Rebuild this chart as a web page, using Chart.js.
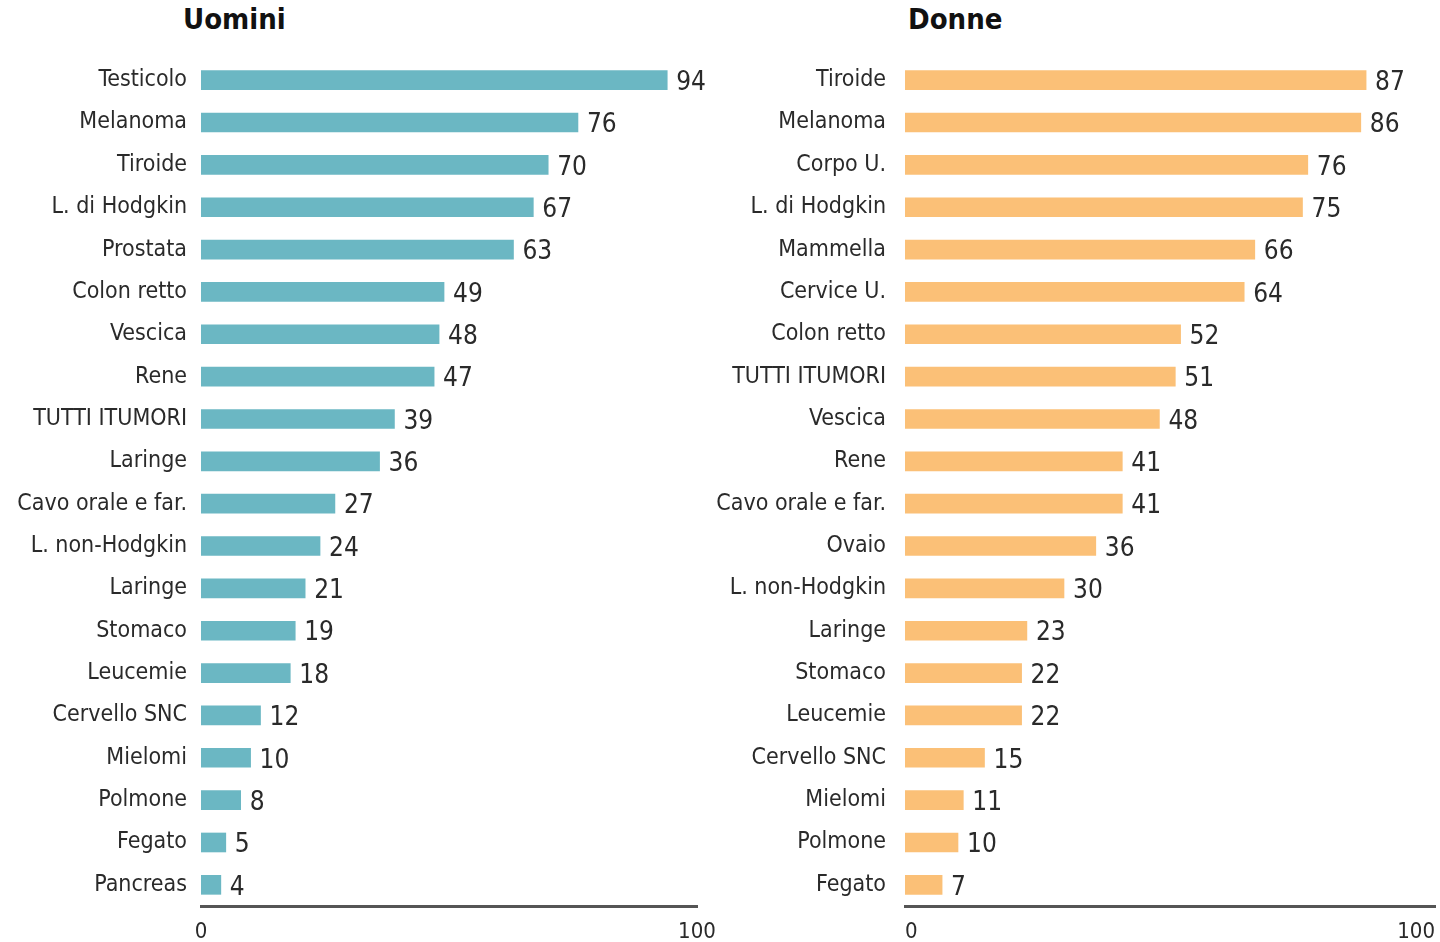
<!DOCTYPE html>
<html>
<head>
<meta charset="utf-8">
<script src="https://cdn.jsdelivr.net/npm/chart.js@4"></script>
<style>
  html, body { margin: 0; padding: 0; background: #fff; }
  body { width: 1440px; height: 942px; position: relative; overflow: hidden; }
  .wrap { position: absolute; top: 0; height: 942px; }
  .title { position: absolute; top: 2px; font-family: 'DejaVu Sans Condensed', 'Liberation Sans Narrow', 'Roboto', sans-serif; font-weight: bold; font-size: 29px; color: #111; }
</style>
</head>
<body>
<div class="title" style="left:183px">Uomini</div>
<div class="title" style="left:908px">Donne</div>
<div class="wrap" style="left:0;width:720px"><canvas id="c1" width="720" height="942"></canvas></div>
<div class="wrap" style="left:700px;width:740px"><canvas id="c2" width="740" height="942"></canvas></div>
<script>
const menCategories = ["Testicolo","Melanoma","Tiroide","L. di Hodgkin","Prostata","Colon retto","Vescica","Rene","TUTTI ITUMORI","Laringe","Cavo orale e far.","L. non-Hodgkin","Laringe","Stomaco","Leucemie","Cervello SNC","Mielomi","Polmone","Fegato","Pancreas"];
const menValues = [94,76,70,67,63,49,48,47,39,36,27,24,21,19,18,12,10,8,5,4];
const womenCategories = ["Tiroide","Melanoma","Corpo U.","L. di Hodgkin","Mammella","Cervice U.","Colon retto","TUTTI ITUMORI","Vescica","Rene","Cavo orale e far.","Ovaio","L. non-Hodgkin","Laringe","Stomaco","Leucemie","Cervello SNC","Mielomi","Polmone","Fegato"];
const womenValues = [87,86,76,75,66,64,52,51,48,41,41,36,30,23,22,22,15,11,10,7];
const xTickLabels = ["0","100"];

const FONT = "'DejaVu Sans Condensed', 'Liberation Sans Narrow', 'Roboto', sans-serif";

const valueLabels = {
  id: 'valueLabels',
  afterDatasetsDraw(chart) {
    const ctx = chart.ctx;
    ctx.save();
    ctx.font = '26px ' + FONT;
    ctx.fillStyle = '#2a2a2a';
    ctx.textBaseline = 'middle';
    ctx.textAlign = 'left';
    const meta = chart.getDatasetMeta(0);
    meta.data.forEach((bar, i) => {
      ctx.fillText(String(chart.data.datasets[0].data[i]), bar.x + 9, bar.y + 3);
    });
    ctx.restore();
  }
};

function makeChart(id, cats, vals, color, yWidth, padRight, yPad, xAlign) {
  return new Chart(document.getElementById(id), {
    type: 'bar',
    data: { labels: cats, datasets: [{ data: vals, backgroundColor: color, barThickness: 19, borderWidth: 0 }] },
    options: {
      indexAxis: 'y',
      responsive: false,
      animation: false,
      layout: { padding: { top: 59, right: padRight, left: 0, bottom: 0 } },
      plugins: { legend: { display: false }, tooltip: { enabled: false } },
      scales: {
        x: {
          min: 0, max: 100,
          ticks: {
            stepSize: 100,
            color: '#2a2a2a',
            align: xAlign,
            font: { family: FONT, size: 22 },
            padding: 13,
            callback: (v) => v === 0 ? xTickLabels[0] : (v === 100 ? xTickLabels[1] : '')
          },
          grid: { display: false, drawTicks: false },
          border: { display: true, color: '#555', width: 3 },
          afterFit: (s) => { s.height = 36; s.paddingLeft = 0; s.paddingRight = 0; }
        },
        y: {
          ticks: { color: '#2a2a2a', font: { family: FONT, size: 23 }, padding: yPad, autoSkip: false },
          grid: { display: false, drawTicks: false },
          border: { display: false },
          afterFit: (s) => { s.width = yWidth; }
        }
      }
    },
    plugins: [valueLabels]
  });
}

makeChart('c1', menCategories, menValues, '#6bb7c3', 201, 23, 14, 'center');
makeChart('c2', womenCategories, womenValues, '#fbc077', 205, 5, 19, 'inner');
</script>
</body>
</html>
